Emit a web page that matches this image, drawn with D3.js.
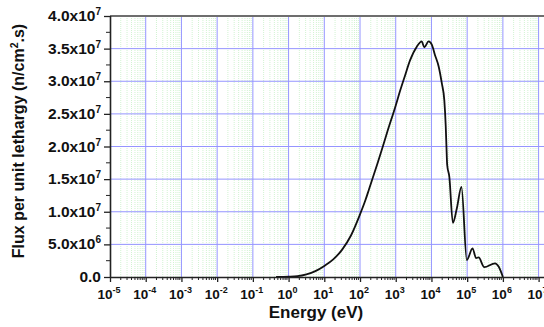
<!DOCTYPE html>
<html><head><meta charset="utf-8">
<script src="https://cdn.jsdelivr.net/npm/d3@7"></script>
<style>
html,body{margin:0;padding:0;background:#fff;}
svg{display:block;}
text{font-family:"Liberation Sans",Arial,sans-serif;font-weight:bold;fill:#111;}
</style></head>
<body>
<svg id="chart" width="544" height="327"></svg>
<script>
// log10 of energy (eV)
const logEnergy = [-0.35, 0.0, 0.25, 0.5, 0.75, 1.0, 1.25, 1.5, 1.75, 2.0, 2.14, 2.25, 2.5, 2.61, 2.75, 3.0, 3.12, 3.25, 3.40, 3.59, 3.73, 3.80, 3.92, 4.01, 4.10, 4.20, 4.29, 4.36, 4.40, 4.42, 4.44, 4.50, 4.60, 4.71, 4.84, 4.99, 5.15, 5.25, 5.32, 5.48, 5.78, 5.88, 6.0];
// flux per unit lethargy (n/cm^2.s)
const flux = [0, 0.004e7, 0.012e7, 0.04e7, 0.09e7, 0.17e7, 0.27e7, 0.42e7, 0.64e7, 0.96e7, 1.16e7, 1.34e7, 1.76e7, 1.95e7, 2.2e7, 2.63e7, 2.85e7, 3.07e7, 3.32e7, 3.53e7, 3.61e7, 3.52e7, 3.61e7, 3.56e7, 3.40e7, 3.23e7, 2.97e7, 2.71e7, 2.31e7, 2.0e7, 1.72e7, 1.54e7, 0.83e7, 1.05e7, 1.38e7, 0.26e7, 0.44e7, 0.29e7, 0.30e7, 0.15e7, 0.21e7, 0.16e7, 0];
const xTickExponents = [-5, -4, -3, -2, -1, 0, 1, 2, 3, 4, 5, 6, 7];
const yTickValues = [0, 0.5e7, 1.0e7, 1.5e7, 2.0e7, 2.5e7, 3.0e7, 3.5e7, 4.0e7];
const yTickLabels = [["0.0", ""], ["5.0x10", "6"], ["1.0x10", "7"], ["1.5x10", "7"], ["2.0x10", "7"], ["2.5x10", "7"], ["3.0x10", "7"], ["3.5x10", "7"], ["4.0x10", "7"]];

(function () {
const svg = d3.select("#chart");
const pLeft = 110, pTop = 16, pBottom = 277;
const x = d3.scaleLog().domain([1e-5, 1e7]).range([pLeft, 538.6]);
const y = d3.scaleLinear().domain([0, 4e7]).range([pBottom, pTop]);
const xMaxPx = 600;

// minor vertical grid
const minor = [];
for (let e = -5; e <= 7; e++) for (let k = 2; k <= 9; k++) minor.push(k * Math.pow(10, e));
svg.append("g").selectAll("line").data(minor).join("line")
  .attr("x1", d => x(d)).attr("x2", d => x(d)).attr("y1", pTop).attr("y2", pBottom)
  .attr("stroke", "#d2f3d2").attr("stroke-width", 1).attr("stroke-dasharray", "1,1");
// major vertical grid
svg.append("g").selectAll("line").data(xTickExponents.slice(1)).join("line")
  .attr("x1", d => x(Math.pow(10, d))).attr("x2", d => x(Math.pow(10, d))).attr("y1", pTop).attr("y2", pBottom)
  .attr("stroke", "#9595ff").attr("stroke-width", 1);
// major horizontal grid
svg.append("g").selectAll("line").data(yTickValues.slice(1, -1)).join("line")
  .attr("x1", pLeft).attr("x2", xMaxPx).attr("y1", d => y(d)).attr("y2", d => y(d))
  .attr("stroke", "#9595ff").attr("stroke-width", 1);

// top border
svg.append("line").attr("x1", pLeft).attr("x2", xMaxPx).attr("y1", pTop).attr("y2", pTop)
  .attr("stroke", "#6e6e6e").attr("stroke-width", 2);

// curve
const pts = logEnergy.map((l, i) => [x(Math.pow(10, l)), y(flux[i])]);
svg.append("path").attr("d", d3.line().curve(d3.curveMonotoneX)(pts))
  .attr("fill", "none").attr("stroke", "#111").attr("stroke-width", 1.8);

// x axis
const xAxis = d3.axisBottom(x).tickValues(xTickExponents.map(e => Math.pow(10, e))).tickSize(5).tickFormat("");
const gx = svg.append("g").attr("transform", `translate(0,${pBottom})`).call(xAxis);
gx.select(".domain").attr("d", `M${pLeft},0.5H${xMaxPx}`).attr("stroke", "#222").attr("stroke-width", 1.6);
gx.selectAll(".tick line").attr("stroke", "#222").attr("stroke-width", 1.3);
svg.append("g").attr("transform", `translate(0,${pBottom})`).selectAll("line").data(minor).join("line")
  .attr("x1", d => x(d)).attr("x2", d => x(d)).attr("y1", 0).attr("y2", 3)
  .attr("stroke", "#222").attr("stroke-width", 1);
// x tick labels
const xl = svg.append("g").selectAll("text").data(xTickExponents).join("text")
  .attr("x", d => x(Math.pow(10, d)) - 1).attr("y", 299).attr("text-anchor", "middle").attr("font-size", 13.5);
xl.append("tspan").text("10");
xl.append("tspan").attr("dy", -6).attr("font-size", 9).text(d => d);

// y axis
const yAxis = d3.axisLeft(y).tickValues(yTickValues).tickSize(6).tickFormat("");
const gy = svg.append("g").attr("transform", `translate(${pLeft},0)`).call(yAxis);
gy.select(".domain").attr("d", `M0.5,${pBottom}V${pTop}`).attr("stroke", "#222").attr("stroke-width", 1.6);
gy.selectAll(".tick line").attr("stroke", "#222").attr("stroke-width", 1.3);
const yMinor = d3.range(0.25e7, 4e7, 0.5e7);
svg.append("g").selectAll("line").data(yMinor).join("line")
  .attr("x1", pLeft - 4).attr("x2", pLeft).attr("y1", d => y(d)).attr("y2", d => y(d))
  .attr("stroke", "#222").attr("stroke-width", 1);
const yl = svg.append("g").selectAll("text").data(yTickValues).join("text")
  .attr("x", 101).attr("y", d => y(d) + 5).attr("text-anchor", "end").attr("font-size", 15.5);
yl.append("tspan").text((d, i) => yTickLabels[i][0]);
yl.append("tspan").attr("dy", -6).attr("font-size", 10).text((d, i) => yTickLabels[i][1]);

// axis titles
svg.append("text").attr("x", 316).attr("y", 318).attr("text-anchor", "middle").attr("font-size", 17).text("Energy (eV)");
const yt = svg.append("text").attr("transform", "translate(24,141) rotate(-90)").attr("text-anchor", "middle").attr("font-size", 16);
yt.append("tspan").text("Flux per unit lethargy (n/cm");
yt.append("tspan").attr("dy", -6).attr("font-size", 10.5).text("2");
yt.append("tspan").attr("dy", 6).text(".s)");
})();
</script>
</body></html>
